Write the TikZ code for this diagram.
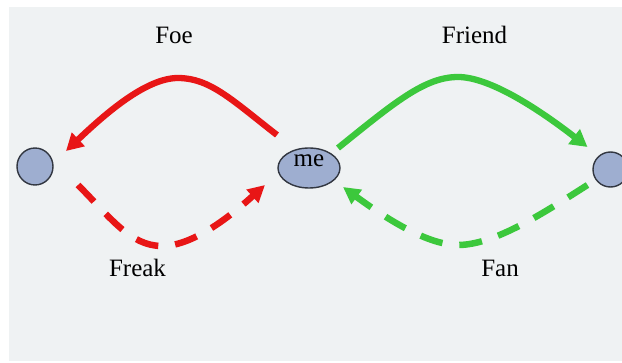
\documentclass[tikz,border=0pt]{standalone}
\usepackage{fontspec}
\setmainfont{Liberation Serif}
\usetikzlibrary{arrows.meta,shapes.geometric}
\definecolor{panel}{RGB}{239,242,243}
\definecolor{foered}{RGB}{232,22,22}
\definecolor{friendgreen}{RGB}{60,200,60}
\definecolor{dotfill}{RGB}{158,174,208}
\definecolor{dotline}{RGB}{50,55,65}
\begin{document}
\begin{tikzpicture}[x=1pt,y=1pt,
  person/.style={ellipse, draw=dotline, fill=dotfill, line width=1.4pt, inner sep=0pt},
  tag/.style={font=\fontsize{25}{30}\selectfont},
  solidarc/.style={line width=6.3pt, -{Triangle[length=17pt,width=18pt]}},
  dasharc/.style={line width=6.5pt, dash pattern=on 23pt off 17pt, -{Triangle[length=17pt,width=17pt]}},
]
\useasboundingbox (0,0) rectangle (622,362);
\fill[panel] (9,1) rectangle (622,355);

% the three people
\node[person, minimum width=36pt, minimum height=37pt] (L) at (35,195.5) {};
\node[person, minimum width=62pt, minimum height=40pt, tag, text depth=15pt] (me) at (309,194) {me};
\node[person, minimum width=35pt, minimum height=35pt] (R) at (610.5,192.5) {};

% relation labels
\node[tag] (foe) at (174,327) {Foe};
\node[tag] (friend) at (474.5,327) {Friend};
\node[tag] (freak) at (137.5,94) {Freak};
\node[tag] (fan) at (500,94) {Fan};

% solid arcs over the top
\draw[solidarc, foered] ([shift={(-32,33)}]me.center)
  .. controls (232,262) and (210,284) .. (178,284)
  .. controls (145,284) and (103,246) .. ([shift={(31,15.5)}]L.center);
\draw[solidarc, friendgreen] ([shift={(29,20)}]me.center)
  .. controls (395,260) and (425,285) .. (458,285)
  .. controls (492,285) and (545,248) .. ([shift={(-23,22.5)}]R.center);

% dashed arcs underneath
\draw[dasharc, foered] ([shift={(43,-18.5)}]L.center)
  .. controls (110,145) and (130,116) .. (162,116)
  .. controls (195,116) and (235,150) .. ([shift={(-44,-17)}]me.center);
\draw[dasharc, friendgreen] ([shift={(-23,-15.5)}]R.center)
  .. controls (545,150) and (495,117) .. (458,117)
  .. controls (425,117) and (380,148) .. ([shift={(34,-19)}]me.center);
\end{tikzpicture}
\end{document}
